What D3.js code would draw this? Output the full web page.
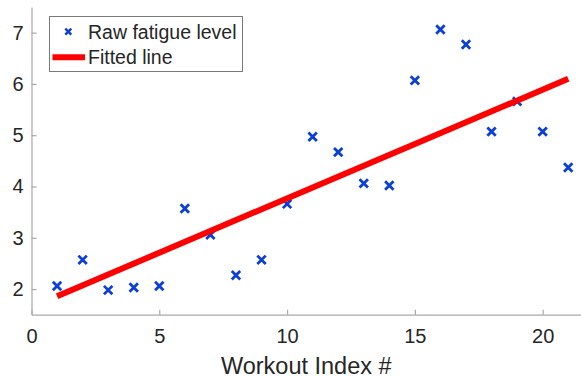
<!DOCTYPE html>
<html><head><meta charset="utf-8">
<script src="https://cdn.jsdelivr.net/npm/d3@7"></script>
<style>body{margin:0;background:#fff}svg{display:block}</style>
</head><body>
<svg id="c" width="581" height="377"></svg>
<script>
const workoutIndex = [1,2,3,4,5,6,7,8,9,10,11,12,13,14,15,16,17,18,19,20,21];
const fatigue = [2.06,2.57,1.98,2.03,2.06,3.57,3.06,2.27,2.57,3.66,4.97,4.67,4.06,4.02,6.07,7.06,6.77,5.07,5.66,5.07,4.37];
const fitX = [1, 21];
const fitY = [1.86, 6.10];
const xTicks = [0,5,10,15,20];
const yTicks = [2,3,4,5,6,7];
const legendLabels = ["Raw fatigue level", "Fitted line"];
const xLabel = "Workout Index #";

const svg = d3.select("#c");
const font = "'Liberation Sans', Arial, Helvetica, sans-serif";
const x = d3.scaleLinear().domain([0, 21.5]).range([31.5, 581]);
const y = d3.scaleLinear().domain([1.5, 7.5]).range([314.7, 7]);
const axisColor = "#a8a8a8", textColor = "#262626";
const fmt = d3.format("d");

const gx = svg.append("g").attr("transform", `translate(0,${y(1.5)})`)
  .call(d3.axisBottom(x).tickValues(xTicks).tickFormat(fmt).tickSizeInner(-5).tickSizeOuter(0).tickPadding(14));
const gy = svg.append("g").attr("transform", `translate(${x(0)},0)`)
  .call(d3.axisLeft(y).tickValues(yTicks).tickFormat(fmt).tickSizeInner(-5).tickSizeOuter(0).tickPadding(8));
[gx, gy].forEach(g => {
  g.select(".domain").attr("stroke", axisColor).attr("stroke-width", 1.2);
  g.selectAll(".tick line").attr("stroke", axisColor).attr("stroke-width", 1.2);
  g.selectAll(".tick text").attr("fill", textColor).attr("font-family", font).attr("font-size", 20);
});

svg.append("text").attr("x", x(10.75)).attr("y", 373.5).attr("text-anchor", "middle")
  .attr("font-family", font).attr("font-size", 23.5).attr("fill", textColor).text(xLabel);

const blue = "#0b3fd6";
function cross(g, cx, cy, r, w) {
  g.append("path").attr("d", `M${cx-r},${cy-r}L${cx+r},${cy+r}M${cx-r},${cy+r}L${cx+r},${cy-r}`)
    .attr("stroke", blue).attr("stroke-width", w).attr("fill", "none");
}
const pts = svg.append("g");
workoutIndex.forEach((d, i) => cross(pts, x(d), y(fatigue[i]), 4.2, 2.8));

svg.append("line").attr("x1", x(fitX[0])).attr("y1", y(fitY[0])).attr("x2", x(fitX[1])).attr("y2", y(fitY[1]))
  .attr("stroke", "#ff0000").attr("stroke-width", 6);

const lg = svg.append("g");
lg.append("rect").attr("x", 49.5).attr("y", 16.5).attr("width", 193).attr("height", 55)
  .attr("fill", "#fff").attr("stroke", "#7a7a7a").attr("stroke-width", 1);
cross(lg, 68.3, 31.7, 3, 2.4);
lg.append("line").attr("x1", 52.5).attr("x2", 85).attr("y1", 57.3).attr("y2", 57.3)
  .attr("stroke", "#ff0000").attr("stroke-width", 6);
legendLabels.forEach((t, i) => lg.append("text").attr("x", 88).attr("y", [38.6, 64.4][i])
  .attr("font-family", font).attr("font-size", 19.5).attr("fill", textColor).text(t));
</script>
</body></html>
